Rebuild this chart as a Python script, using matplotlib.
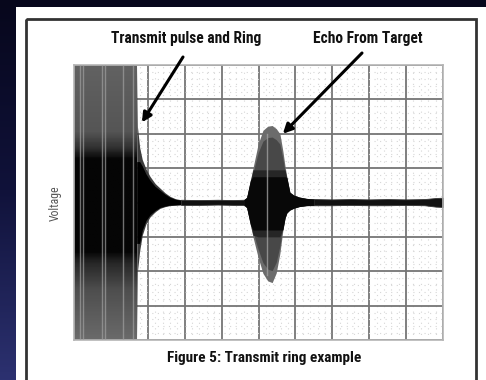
import numpy as np
import matplotlib
matplotlib.use('Agg')
import matplotlib.pyplot as plt
from matplotlib.colors import LinearSegmentedColormap
from matplotlib.patches import Rectangle

# scope trace, all values in screen divisions (10 x 8 graticule)
burst_end = 1.70
burst_streaks = [0.16, 0.24, 0.76, 0.84, 1.33, 1.60]

ring_x = [1.70, 1.72, 1.78, 1.85, 1.95, 2.06, 2.20, 2.33, 2.47, 2.60, 2.75, 2.90]
ring_hi = [4.00, 2.20, 1.60, 1.25, 0.98, 0.76, 0.55, 0.42, 0.28, 0.18, 0.11, 0.08]
ring_lo = [-4.00, -2.00, -1.40, -0.95, -0.62, -0.42, -0.27, -0.17, -0.12, -0.09, -0.08, -0.07]

base_x = [2.90, 3.40, 3.90, 4.30, 4.60, 6.50, 7.00, 7.50, 8.00, 8.50, 9.00, 9.50, 9.80, 10.0]
base_hi = [0.08, 0.07, 0.08, 0.07, 0.08, 0.10, 0.09, 0.10, 0.09, 0.10, 0.09, 0.10, 0.13, 0.14]
base_lo = [-0.07, -0.07, -0.06, -0.07, -0.07, -0.08, -0.08, -0.07, -0.08, -0.08, -0.07, -0.08, -0.12, -0.13]

echo_x = [4.60, 4.68, 4.72, 4.78, 4.85, 4.99, 5.12, 5.25, 5.37, 5.48, 5.58, 5.66, 5.72, 5.77, 5.85, 5.95, 6.10, 6.30, 6.50]
echo_hi = [0.08, 0.15, 0.35, 0.65, 1.00, 1.70, 2.10, 2.22, 2.24, 2.15, 2.00, 1.50, 1.05, 0.73, 0.30, 0.22, 0.16, 0.12, 0.10]
echo_lo = [-0.07, -0.15, -0.35, -0.65, -1.00, -1.60, -2.06, -2.28, -2.33, -2.05, -1.48, -0.81, -0.45, -0.30, -0.22, -0.17, -0.12, -0.09, -0.08]
echo_streak = 5.23

fig = plt.figure(figsize=(4.86, 3.8), dpi=100)

# slide background and white page, laid out in pixels
bg = fig.add_axes([0, 0, 1, 1], zorder=0)
bg.set_xlim(0, 486)
bg.set_ylim(380, 0)
bg.axis('off')
navy = LinearSegmentedColormap.from_list('navy', ['#07071c', '#10123a', '#2c3170'])
bg.imshow(np.linspace(0, 1, 200).reshape(-1, 1), cmap=navy, aspect='auto',
          extent=[0, 486, 380, 0], zorder=0)
bg.add_patch(Rectangle((16, 7), 480, 380, fc='white', ec='none', zorder=1))
bg.add_patch(Rectangle((26, 19), 449.5, 400, fill=False, ec='#333333', lw=2.0, zorder=2))

ax = fig.add_axes([74 / 486, 40 / 380, 369 / 486, 275 / 380], zorder=1)
ax.set_xlim(0, 10)
ax.set_ylim(-4, 4)
ax.patch.set_alpha(0)
ax.set_xticks(np.arange(0, 11, 1))
ax.set_yticks(np.arange(-4, 5, 1))
ax.set_xticks(np.arange(0, 10.01, 0.2), minor=True)
ax.set_yticks(np.arange(-4, 4.01, 0.2), minor=True)
ax.tick_params(which='both', length=0, labelbottom=False, labelleft=False)
ax.grid(which='minor', color='#d6d6d6', lw=0.8, ls=(0, (1, 4)), zorder=0)
ax.grid(which='major', color='#757575', lw=1.3, zorder=0)
ax.set_axisbelow(True)
for spi in ['top', 'bottom', 'left', 'right']:
    ax.spines[spi].set_color('#b5b5b5')
    ax.spines[spi].set_linewidth(1.2)

# transmit burst: saturated, grey at the rails and black in the middle
burst_shade = LinearSegmentedColormap.from_list(
    'burst', [(0, '#6a6a6a'), (0.18, '#4e4e4e'), (0.28, '#262626'), (0.32, '#050505'),
              (0.66, '#050505'), (0.70, '#303030'), (0.76, '#555555'), (1, '#626262')])
ax.imshow(np.linspace(0, 1, 200).reshape(-1, 1), cmap=burst_shade, aspect='auto',
          origin='lower', extent=[0, burst_end, -4, 4], zorder=2)
for sx in burst_streaks:
    ax.axvline(sx, color='#a0a0a0', lw=1.0, alpha=0.7, zorder=3)

ring_x = np.array(ring_x)
ax.fill_between(ring_x, ring_lo, ring_hi, color='#3c3c3c', lw=0, zorder=2)
ax.fill_between(ring_x, np.clip(ring_lo, -1.4, None) * 0.85, np.clip(ring_hi, None, 1.4) * 0.85,
                color='#000000', lw=0, zorder=2)

ax.fill_between(base_x, base_lo, base_hi, color='#111111', lw=0.6, ec='#333333', zorder=2)

echo_hi = np.array(echo_hi)
echo_lo = np.array(echo_lo)
ax.fill_between(echo_x, echo_lo, echo_hi, color='#6c6c6c', lw=0, zorder=2)
ax.fill_between(echo_x, echo_lo * 0.85, echo_hi * 0.85, color='#484848', lw=0, zorder=2)
ax.fill_between(echo_x, np.clip(echo_lo * 0.95, -1.0, None), np.clip(echo_hi * 0.95, None, 0.95),
                color='#262626', lw=0, zorder=2)
ax.fill_between(echo_x, np.clip(echo_lo, -0.8, None), np.clip(echo_hi, None, 0.75),
                color='#080808', lw=0, zorder=2)
ax.plot([echo_streak, echo_streak], [-2.1, 2.0], color='#a0a0a0', lw=1.0, alpha=0.8, zorder=3)

# labels and arrows on top
top = fig.add_axes([0, 0, 1, 1], zorder=3)
top.set_xlim(0, 486)
top.set_ylim(380, 0)
top.axis('off')
narrow = ['Roboto Condensed', 'DejaVu Sans']
top.text(186, 39, 'Transmit pulse and Ring', ha='center', va='center',
         fontsize=11.2, fontweight='bold', family=narrow, color='#111111')
top.text(368, 39, 'Echo From Target', ha='center', va='center',
         fontsize=11.2, fontweight='bold', family=narrow, color='#111111')
top.text(264, 358, 'Figure 5: Transmit ring example', ha='center', va='center',
         fontsize=11, fontweight='bold', family=narrow, color='#111111')
top.text(55, 203, 'Voltage', ha='center', va='center', rotation=90,
         fontsize=8.5, family=narrow, color='#555555')

arrow = dict(arrowstyle='-|>', color='black', lw=2.2, mutation_scale=14, shrinkA=0, shrinkB=0)
top.annotate('', xy=(1.84, 2.33), xycoords=ax.transData,
             xytext=(183, 57), textcoords=top.transData, arrowprops=arrow)
top.annotate('', xy=(5.66, 2.0), xycoords=ax.transData,
             xytext=(362, 53), textcoords=top.transData, arrowprops=arrow)

fig.savefig('out.png', dpi=100)
